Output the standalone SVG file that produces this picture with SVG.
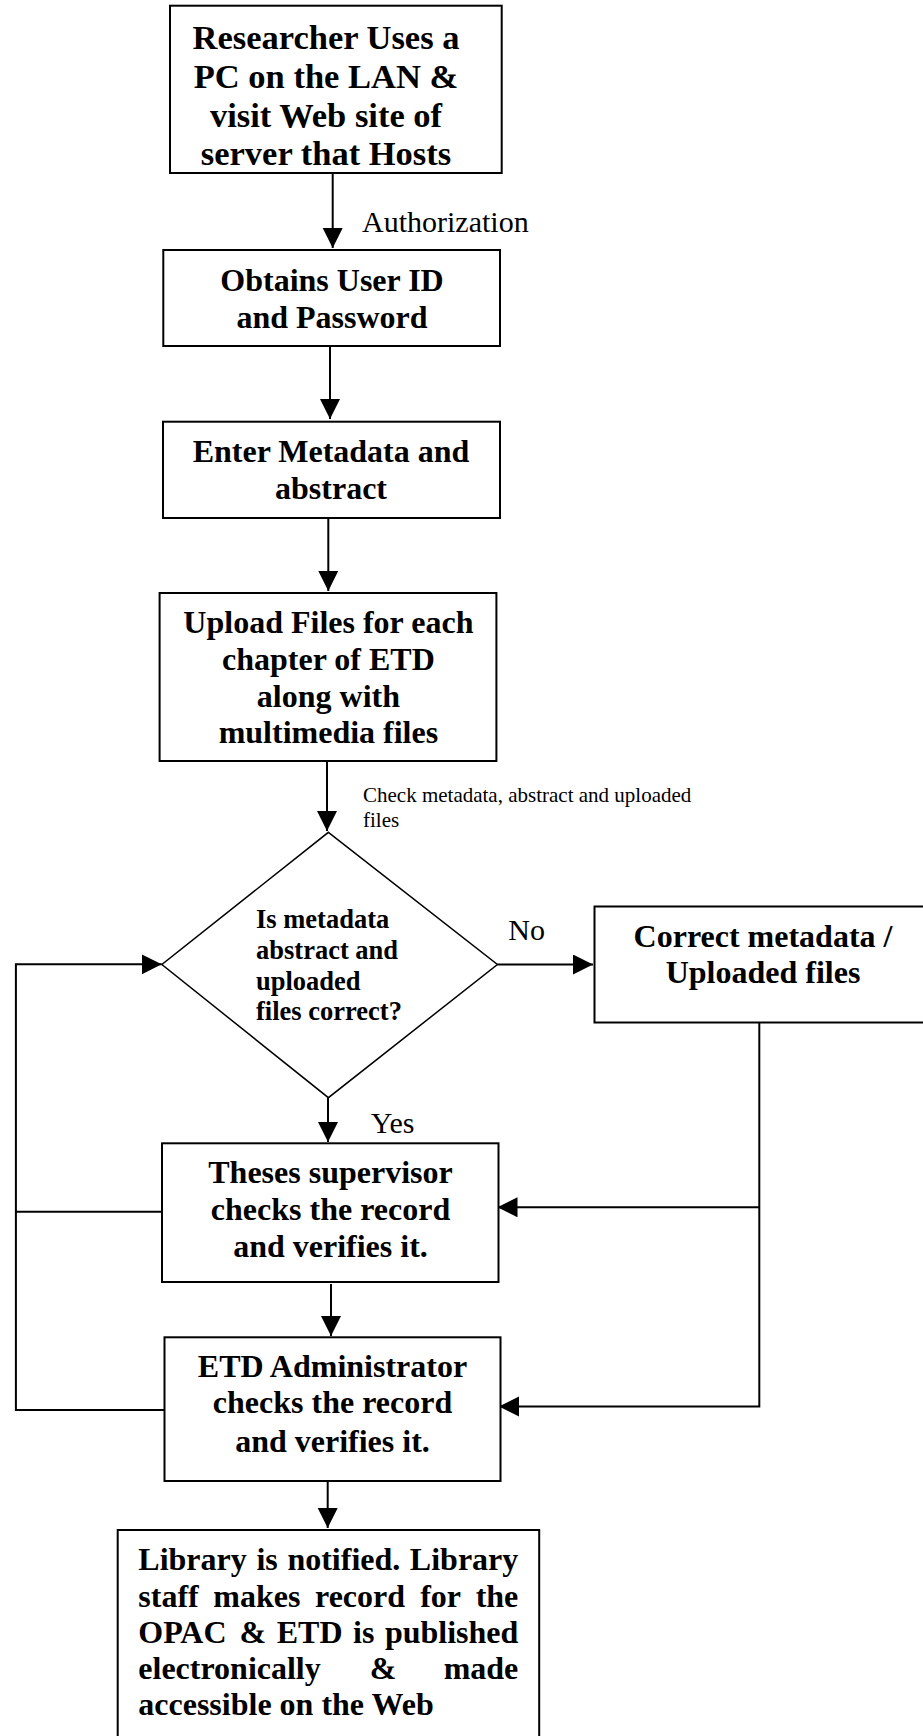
<svg xmlns="http://www.w3.org/2000/svg" width="923" height="1736" viewBox="0 0 923 1736">
  <style>
    .box { fill: #ffffff; stroke: #000000; stroke-width: 2; }
    .dia { fill: #ffffff; stroke: #000000; stroke-width: 1.5; }
    .t { font-family: "Liberation Serif", "Times New Roman", serif; font-weight: bold; font-size: 32px; fill: #000000; text-anchor: middle; }
    .t1 { font-size: 34.5px; }
    .dt { font-family: "Liberation Serif", "Times New Roman", serif; font-weight: bold; font-size: 26.5px; fill: #000000; }
    .jt { font-family: "Liberation Serif", "Times New Roman", serif; font-weight: bold; font-size: 32px; fill: #000000; }
    .lbl { font-family: "Liberation Serif", "Times New Roman", serif; font-size: 30px; fill: #000000; }
    .small { font-family: "Liberation Serif", "Times New Roman", serif; font-size: 21px; fill: #000000; }
    .ln { fill: none; stroke: #000000; stroke-width: 2; }
  </style>
  <defs>
    <marker id="arr" markerUnits="userSpaceOnUse" markerWidth="21" markerHeight="21" refX="20" refY="10" orient="auto">
      <path d="M0,0 L20,10 L0,20 Z" fill="#000000"/>
    </marker>
  </defs>

  <rect width="923" height="1736" fill="#ffffff"/>

  <!-- connectors -->
  <g id="connectors">
    <line class="ln" x1="332.7" y1="173" x2="332.7" y2="248" marker-end="url(#arr)"/>
    <line class="ln" x1="330" y1="346" x2="330" y2="419" marker-end="url(#arr)"/>
    <line class="ln" x1="328.3" y1="518" x2="328.3" y2="591" marker-end="url(#arr)"/>
    <line class="ln" x1="327" y1="761" x2="327" y2="831" marker-end="url(#arr)"/>
    <line class="ln" x1="497.4" y1="964.5" x2="593" y2="964.5" marker-end="url(#arr)"/>
    <line class="ln" x1="328" y1="1097.7" x2="328" y2="1142" marker-end="url(#arr)"/>
    <line class="ln" x1="331" y1="1284" x2="331" y2="1336" marker-end="url(#arr)"/>
    <line class="ln" x1="327.7" y1="1481" x2="327.7" y2="1528" marker-end="url(#arr)"/>
    <!-- correction feedback on the right -->
    <polyline class="ln" points="759.3,1022.3 759.3,1406.5 499,1406.5" marker-end="url(#arr)"/>
    <line class="ln" x1="759.3" y1="1207.3" x2="497.5" y2="1207.3" marker-end="url(#arr)"/>
    <!-- return loop on the left -->
    <polyline class="ln" points="165,1410 15.9,1410 15.9,964.3 161.7,964.3" marker-end="url(#arr)"/>
    <line class="ln" x1="15.9" y1="1211.7" x2="162" y2="1211.7"/>
    <text class="lbl" x="362" y="232" font-size="31">Authorization</text>
    <text class="small" x="363" y="801.7">Check metadata, abstract and uploaded</text>
    <text class="small" x="363" y="826.7">files</text>
    <text class="lbl" x="508.3" y="940">No</text>
    <text class="lbl" x="370.8" y="1133">Yes</text>
  </g>

  <g id="node-researcher">
    <rect class="box" x="170" y="5.7" width="331.7" height="167.3"/>
    <text class="t t1" x="326" y="49.3">Researcher Uses a</text>
    <text class="t t1" x="326" y="88.3">PC on the LAN &amp;</text>
    <text class="t t1" x="326" y="127">visit Web site of</text>
    <text class="t t1" x="326" y="165.3">server that Hosts</text>
  </g>

  <g id="node-userid">
    <rect class="box" x="163.3" y="250" width="336.7" height="96"/>
    <text class="t" x="332" y="290.7">Obtains User ID</text>
    <text class="t" x="332" y="328.3">and Password</text>
  </g>

  <g id="node-metadata">
    <rect class="box" x="163" y="421.7" width="337" height="96.3"/>
    <text class="t" x="331" y="461.7">Enter Metadata and</text>
    <text class="t" x="331" y="499.3">abstract</text>
  </g>

  <g id="node-upload">
    <rect class="box" x="159.6" y="593" width="336.8" height="168"/>
    <text class="t" x="328.4" y="632.7">Upload Files for each</text>
    <text class="t" x="328.4" y="670">chapter of ETD</text>
    <text class="t" x="328.4" y="706.7">along with</text>
    <text class="t" x="328.4" y="743.3">multimedia files</text>
  </g>

  <g id="node-check">
    <polygon class="dia" points="328.4,832.3 497.4,964.5 328.4,1097.7 161.9,964.5"/>
    <text class="dt" x="256" y="928.3">Is metadata</text>
    <text class="dt" x="256" y="959.3">abstract and</text>
    <text class="dt" x="256" y="990">uploaded</text>
    <text class="dt" x="256" y="1020.3">files correct?</text>
  </g>

  <g id="node-correct">
    <rect class="box" x="594.5" y="906.5" width="340" height="116"/>
    <text class="t" x="763" y="946.7">Correct metadata /</text>
    <text class="t" x="763" y="982.7">Uploaded files</text>
  </g>

  <g id="node-supervisor">
    <rect class="box" x="162" y="1143.3" width="336.5" height="138.7"/>
    <text class="t" x="330.5" y="1183.3">Theses supervisor</text>
    <text class="t" x="330.5" y="1220">checks the record</text>
    <text class="t" x="330.5" y="1257.3">and verifies it.</text>
  </g>

  <g id="node-admin">
    <rect class="box" x="164.5" y="1337.3" width="336" height="143.7"/>
    <text class="t" x="332.5" y="1377">ETD Administrator</text>
    <text class="t" x="332.5" y="1413">checks the record</text>
    <text class="t" x="332.5" y="1451.7">and verifies it.</text>
  </g>

  <g id="node-library">
    <rect class="box" x="117.7" y="1530" width="421.5" height="212"/>
    <!-- justified paragraph: each word placed on its own -->
    <text class="jt" y="1570"><tspan x="138.3">Library</tspan><tspan x="256.4">is</tspan><tspan x="287.4">notified.</tspan></text>
    <text class="jt" x="518.3" y="1570" text-anchor="end">Library</text>
    <text class="jt" y="1606.7"><tspan x="138.3">staff</tspan><tspan x="213.3">makes</tspan><tspan x="315">record</tspan><tspan x="420.2">for</tspan></text>
    <text class="jt" x="518.3" y="1606.7" text-anchor="end">the</text>
    <text class="jt" y="1643.3"><tspan x="138.3">OPAC</tspan><tspan x="239.5">&amp;</tspan><tspan x="276.7">ETD</tspan><tspan x="353">is</tspan></text>
    <text class="jt" x="518.3" y="1643.3" text-anchor="end">published</text>
    <text class="jt" y="1679.3"><tspan x="138.3">electronically</tspan><tspan x="369.8">&amp;</tspan></text>
    <text class="jt" x="518.3" y="1679.3" text-anchor="end">made</text>
    <text class="jt" x="138.3" y="1715">accessible on the Web</text>
  </g>
</svg>
